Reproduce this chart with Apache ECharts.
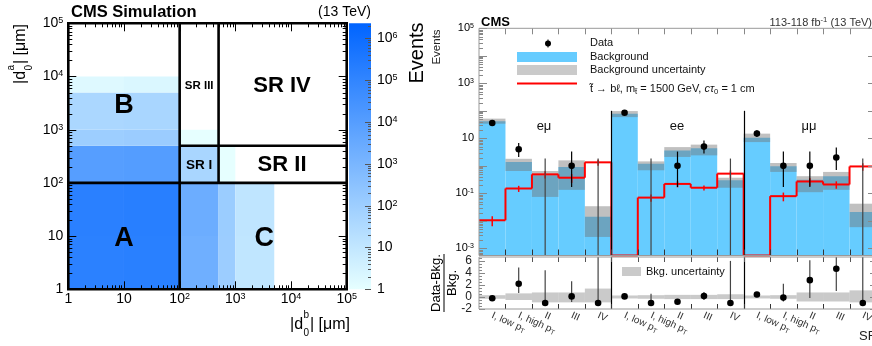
<!DOCTYPE html>
<html>
<head>
<meta charset="utf-8">
<title>ABCD plane and signal region yields</title>
<script src="https://cdn.jsdelivr.net/npm/echarts@6.0.0/dist/echarts.min.js"></script>
<style>
  html, body { margin: 0; padding: 0; background: #fff; }
  #chart { width: 872px; height: 346px; }
</style>
</head>
<body>
<div id="chart"></div>
<script>
// ---- left panel: |d0| plane ----
const xEdges = [1, 10, 100, 500, 1000, 5000, 100000];
const yEdges = [1, 10, 100, 500, 1000, 5000, 10000, 100000];
// simulated events per cell: rows go up in |d0^a|, columns go right in |d0^b|
const cellCounts = [
  [1.5e5, 1.7e5, 1900, 110, 11, 0],
  [1.6e5, 1.8e5, 2300, 115, 12, 0],
  [9.5e3, 1.1e4, 50, 1, 0, 0],
  [105, 120, 1, 0, 0, 0],
  [44, 50, 0, 0, 0, 0],
  [1.7, 2.1, 0, 0, 0, 0],
  [0, 0, 0, 0, 0, 0]
];
const zRange = [1, 2.3e6];
// region boundaries [x0, y0, x1, y1]
const cutLines = [
  [100, 1, 100, 1e5],
  [1, 100, 1e5, 100],
  [500, 100, 500, 1e5],
  [100, 500, 1e5, 500]
];
const regionNames = ['A', 'B', 'C', 'SR I', 'SR II', 'SR III', 'SR IV'];
const regionX = [10, 10, 3300, 224, 6900, 224, 6900];
const regionY = [9, 2900, 9, 215, 215, 6700, 6600];

// ---- right panel: yields per signal region ----
const channels = ['eμ', 'ee', 'μμ'];
const srNames = ['I, low pT', 'I, high pT', 'II', 'III', 'IV'];
const bkg   = [42, 1.38, 0.45, 0.9, 0.014,   79, 1.2, 3.6, 4.4, 0.3,    10.6, 0.96, 0.31, 0.42, 0.021];
const bkgLo = [34, 0.65, 0.074, 0.134, 0.0026,  59, 0.69, 2.1, 2.4, 0.16,  7.3, 0.6, 0.11, 0.134, 0.0059];
const bkgHi = [52, 1.8, 0.65, 1.58, 0.034,  98, 1.45, 4.8, 5.9, 0.37,   14.8, 1.27, 0.42, 0.6, 0.042];
const obs   = [36, 4, 0, 1, 0,   85, 0, 1, 5, 0,   15, 1, 1, 2, 0];
const obsLo = [30, 2.1, 0, 0.17, 0,   76, 0, 0.17, 2.8, 0,   11.2, 0.17, 0.17, 0.7, 0];
const obsHi = [42.5, 6.7, 1.84, 3.3, 1.84,   94.5, 1.84, 3.3, 8.4, 1.84,   19.7, 3.3, 3.3, 4.6, 1.84];
const sig   = [0.0105, 0.15, 0.49, 0.37, 1.34,   0, 0.07, 0.22, 0.16, 0.52,   0, 0.079, 0.27, 0.21, 0.95];
const sigErr = [0.4, 0.25, 0.3, 0.35, 0.25,   0, 0.3, 0.25, 0.2, 0.3,   0, 0.35, 0.3, 0.3, 0.3];
const mainYLabelExps = [-3, -1, 1, 3, 5];
const mainYRange = [Math.pow(10, -3.26), 1e5];

// (data - bkg) / bkg
const ratio   = [-0.2, 2.2, -1, 0.1, -1,   0.1, -1, -0.8, 0.15, -1,   0.4, -0.1, 2.8, 4.7, -1];
const ratioLo = [-0.35, 0.67, -1, -0.85, -1,   -0.05, -1, -0.95, -0.45, -1,   0.05, -0.75, -0.15, 1.0, -1];
const ratioHi = [0.05, 4.9, 4.45, 2.6, 9,   0.25, 0.55, -0.55, 0.83, 6.0,   0.8, 2.2, 6.1, 9, 9];
const bandLo  = [-0.3, -0.5, -0.9, -0.9, -0.9,   -0.25, -0.3, -0.35, -0.35, -0.35,   -0.25, -0.3, -0.75, -0.75, -0.9];
const bandHi  = [0.3, 0.6, 0.75, 0.75, 1.4,   0.25, 0.3, 0.35, 0.35, 0.45,   0.25, 0.3, 0.75, 0.75, 1.1];
const ratioRange = [-2, 6.65];

const FONT = '"Liberation Sans", Arial, Helvetica, "DejaVu Sans", sans-serif';
const Z_LOW = '#e6ffff', Z_HIGH = '#0064ff';
const BKG_BLUE = '#66ccff';
const UNC_FILL = 'rgba(115,115,115,0.45)';
const SIG_RED = '#ff0000';

const nBins = channels.length * srNames.length;
const binKeys = [];
channels.forEach(c => srNames.forEach(s => binKeys.push(c + '|' + s)));

function expOf(v) {
  const e = Math.log10(v), r = Math.round(e);
  return Math.abs(e - r) < 1e-6 ? r : null;
}
function richSet(size, color) {
  return {
    b: { fontSize: size, lineHeight: size, fontFamily: FONT, color: color, verticalAlign: 'middle' },
    p: { fontSize: size, lineHeight: size, padding: [Math.round(size * 0.42), 0, 0, 0], fontFamily: FONT, color: color, verticalAlign: 'bottom' },
    s: { fontSize: Math.round(size * 0.66), lineHeight: Math.round(size * 0.7), fontFamily: FONT, color: color, verticalAlign: 'top' }
  };
}
// "1", "10", "10^n" in ROOT style
function powLabel(v, padAll) {
  const e = expOf(v);
  if (e === null) return '';
  if (e === 0) return padAll ? '{p|1}' : '{b|1}';
  if (e === 1) return padAll ? '{p|10}' : '{b|10}';
  return '{p|10}{s|' + e + '}';
}
function logTicks(lo, hi) {
  const out = [];
  for (let e = Math.floor(Math.log10(lo)); e <= Math.ceil(Math.log10(hi)); e++) {
    for (let m = 1; m <= 9; m++) {
      const v = m * Math.pow(10, e);
      if (v >= lo * 0.9999 && v <= hi * 1.0001) out.push([v, m === 1 ? 1 : 0]);
    }
  }
  return out;
}
function seg(x1, y1, x2, y2, color, w) {
  return { type: 'line', shape: { x1: x1, y1: y1, x2: x2, y2: y2 }, style: { stroke: color, lineWidth: w || 1 } };
}
const crisp = v => Math.round(v) + 0.5;

// frame + inward ticks for a grid; items: [xRef, yRef, kind(0 x-tick, 1 y-tick, 2 frame), major]
function frameSeries(xi, yi, items, o) {
  return {
    type: 'custom', xAxisIndex: xi, yAxisIndex: yi, silent: true, z: 5,
    data: items,
    renderItem: function (params, api) {
      const cs = params.coordSys;
      const L = cs.x, R = cs.x + cs.width, T = cs.y, B = cs.y + cs.height;
      const kind = api.value(2);
      if (kind === 2) {
        return { type: 'rect', shape: { x: L, y: T, width: cs.width, height: cs.height },
          style: { fill: 'none', stroke: o.frame, lineWidth: o.frameWidth } };
      }
      const p = api.coord([api.value(0), api.value(1)]);
      const major = api.value(3);
      if (kind === 0) {
        const x = crisp(p[0] - (o.edgeShift ? cs.width / nBins / 2 : 0));
        const len = major ? o.xMajor : o.xMinor;
        return { type: 'group', children: [
          seg(x, B, x, B - len, o.xBottom), seg(x, T, x, T + len, o.xTop)] };
      }
      const y = crisp(p[1]);
      const len = major ? o.yMajor : o.yMinor;
      const kids = [seg(R, y, R - len, y, o.yColor)];
      if (!o.rightOnly) kids.push(seg(L, y, L + len, y, o.yColor));
      return { type: 'group', children: kids };
    }
  };
}

// ---------- series data ----------
const cellData = [];
cellCounts.forEach((row, j) => row.forEach((n, i) => {
  if (n > 0) cellData.push([xEdges[i], yEdges[j], xEdges[i + 1], yEdges[j + 1], n]);
}));
const zExp = Math.log10(zRange[1]);

const heatTicks = logTicks(1, 1e5);
const heatFrameData = heatTicks.map(t => [t[0], 1, 0, t[1]])
  .concat(heatTicks.map(t => [1, t[0], 1, t[1]]))
  .concat([[1, 1, 2, 0]]);
const cbFrameData = logTicks(zRange[0], zRange[1]).map(t => [0.5, t[0], 1, t[1]]);

const edgeItems = [];
for (let i = 1; i < nBins; i++) edgeItems.push(i);
const mainFrameData = logTicks(mainYRange[0], mainYRange[1]).map(t => [0, t[0], 1, t[1]])
  .concat(edgeItems.map(i => [i, 1, 0, 1]))
  .concat([[0, 1, 2, 0]]);
const ratioYTicks = [];
for (let v = ratioRange[0]; v <= ratioRange[1]; v += 0.5) ratioYTicks.push([0, v, 1, v % 2 === 0 ? 1 : 0]);
const ratioFrameData = ratioYTicks
  .concat(edgeItems.map(i => [i, 0, 0, 1]))
  .concat([[0, 0, 2, 0]]);
const sepData = [];
for (let k = 1; k < channels.length; k++) sepData.push([k * srNames.length, 100]);

// ---------- option ----------
const gridBase = { show: false, outerBoundsMode: 'none', containLabel: false };
const hiddenAxis = { axisLine: { show: false }, axisTick: { show: false }, splitLine: { show: false } };
const regionFont = { 'A': 27, 'B': 27, 'C': 27, 'SR I': 13.5, 'SR II': 22, 'SR III': 11.5, 'SR IV': 22 };

const option = {
  animation: false,
  backgroundColor: '#fff',
  grid: [
    Object.assign({ left: 68.3, top: 23.3, width: 278.4, height: 266 }, gridBase),
    Object.assign({ left: 349, top: 23.3, width: 22, height: 266 }, gridBase),
    Object.assign({ left: 479, top: 28.3, width: 397, height: 227.2 }, gridBase),
    Object.assign({ left: 479, top: 257, width: 397, height: 52 }, gridBase)
  ],
  xAxis: [
    Object.assign({ gridIndex: 0, type: 'log', logBase: 10, min: 1, max: 1e5,
      axisLabel: { margin: 3, formatter: v => powLabel(v, true), rich: richSet(14, '#000'), showMinLabel: true, showMaxLabel: true } }, hiddenAxis),
    Object.assign({ gridIndex: 1, type: 'value', min: 0, max: 1, axisLabel: { show: false } }, hiddenAxis),
    Object.assign({ gridIndex: 2, type: 'category', data: binKeys, boundaryGap: true, axisLabel: { show: false } }, hiddenAxis),
    Object.assign({ gridIndex: 3, type: 'category', data: binKeys, boundaryGap: true,
      axisLabel: {
        interval: 0, rotate: -24, margin: 6, hideOverlap: false,
        formatter: function (v) {
          const name = v.split('|')[1];
          if (/pT$/.test(name)) return '{n|' + name.slice(0, -1) + '}{t|T}';
          return '{n|' + name + '}';
        },
        rich: {
          n: { fontSize: 10, lineHeight: 12, fontFamily: FONT, color: '#333', verticalAlign: 'middle' },
          t: { fontSize: 7, lineHeight: 7, fontFamily: FONT, color: '#333', verticalAlign: 'bottom' }
        }
      } }, hiddenAxis)
  ],
  yAxis: [
    Object.assign({ gridIndex: 0, type: 'log', logBase: 10, min: 1, max: 1e5,
      axisLabel: { margin: 5, formatter: v => powLabel(v, false), rich: richSet(14, '#000'), showMinLabel: true, showMaxLabel: true } }, hiddenAxis),
    Object.assign({ gridIndex: 1, type: 'log', logBase: 10, min: zRange[0], max: zRange[1], position: 'right',
      axisLabel: { margin: 6, formatter: v => powLabel(v, false), rich: richSet(14, '#000'), showMinLabel: true } }, hiddenAxis),
    Object.assign({ gridIndex: 2, type: 'log', logBase: 10, min: mainYRange[0], max: mainYRange[1], axisLabel: { show: false } }, hiddenAxis),
    Object.assign({ gridIndex: 3, type: 'value', min: ratioRange[0], max: ratioRange[1], interval: 2,
      axisLabel: { margin: 7, fontSize: 12, fontFamily: FONT, color: '#222',
        formatter: v => (Math.abs(v % 2) < 1e-9 && v <= 6 ? String(v) : ''), showMaxLabel: false } }, hiddenAxis)
  ],
  series: [
    // d0 plane cells
    {
      type: 'custom', xAxisIndex: 0, yAxisIndex: 0, silent: true, z: 2,
      data: cellData,
      renderItem: function (params, api) {
        const p0 = api.coord([api.value(0), api.value(3)]);
        const p1 = api.coord([api.value(2), api.value(1)]);
        const t = Math.log10(api.value(4)) / zExp;
        return { type: 'rect', shape: { x: p0[0], y: p0[1], width: p1[0] - p0[0], height: p1[1] - p0[1] },
          style: { fill: echarts.color.lerp(Math.max(0, Math.min(1, t)), [Z_LOW, Z_HIGH]) } };
      }
    },
    // region boundaries
    {
      type: 'custom', xAxisIndex: 0, yAxisIndex: 0, silent: true, z: 3,
      data: cutLines,
      renderItem: function (params, api) {
        const a = api.coord([api.value(0), api.value(1)]);
        const b = api.coord([api.value(2), api.value(3)]);
        return seg(a[0], a[1], b[0], b[1], '#000', 2.6);
      }
    },
    frameSeries(0, 0, heatFrameData, { frame: '#000', frameWidth: 2.6, xMajor: 8, xMinor: 4, yMajor: 8, yMinor: 4,
      xBottom: '#000', xTop: '#000', yColor: '#000' }),
    // region names
    {
      type: 'custom', xAxisIndex: 0, yAxisIndex: 0, silent: true, z: 6,
      data: regionX.map((x, k) => [x, regionY[k], k]),
      renderItem: function (params, api) {
        const p = api.coord([api.value(0), api.value(1)]);
        const name = regionNames[api.value(2)];
        return { type: 'text', x: p[0], y: p[1],
          style: { text: name, fill: '#000', font: 'bold ' + regionFont[name] + 'px ' + FONT,
            align: 'center', verticalAlign: 'middle', textAlign: 'center', textVerticalAlign: 'middle' } };
      }
    },
    // colour bar
    {
      type: 'custom', xAxisIndex: 1, yAxisIndex: 1, silent: true, z: 2,
      data: [[0.5, 10]],
      renderItem: function (params) {
        const cs = params.coordSys;
        return { type: 'rect', shape: { x: cs.x, y: cs.y, width: cs.width, height: cs.height },
          style: { fill: new echarts.graphic.LinearGradient(0, 1, 0, 0, [{ offset: 0, color: Z_LOW }, { offset: 1, color: Z_HIGH }]) } };
      }
    },
    frameSeries(1, 1, cbFrameData, { rightOnly: true, yMajor: 6, yMinor: 3, yColor: '#555' }),

    // background histogram
    {
      type: 'custom', xAxisIndex: 2, yAxisIndex: 2, silent: true, z: 2,
      data: bkg.map((v, i) => [i, v]),
      renderItem: function (params, api) {
        const cs = params.coordSys;
        const w = cs.width / nBins;
        const p = api.coord([api.value(0), api.value(1)]);
        const B = cs.y + cs.height;
        return { type: 'rect', shape: { x: p[0] - w / 2, y: p[1], width: w, height: B - p[1] }, style: { fill: BKG_BLUE } };
      }
    },
    // background uncertainty
    {
      type: 'custom', xAxisIndex: 2, yAxisIndex: 2, silent: true, z: 2,
      data: bkg.map((v, i) => [i, bkgLo[i], bkgHi[i]]),
      renderItem: function (params, api) {
        const cs = params.coordSys;
        const w = cs.width / nBins;
        const lo = api.coord([api.value(0), api.value(1)]);
        const hi = api.coord([api.value(0), api.value(2)]);
        return { type: 'rect', shape: { x: lo[0] - w / 2, y: hi[1], width: w, height: lo[1] - hi[1] }, style: { fill: UNC_FILL } };
      }
    },
    // signal
    {
      type: 'custom', xAxisIndex: 2, yAxisIndex: 2, silent: true, z: 3,
      data: sig.map((v, i) => [i, v, i ? sig[i - 1] : -1, sigErr[i]]),
      renderItem: function (params, api) {
        const cs = params.coordSys;
        const w = cs.width / nBins;
        const B = cs.y + cs.height;
        const i = api.value(0);
        const yOf = v => (v > 0 ? api.coord([i, v])[1] : B);
        const xc = api.coord([i, 1])[0];
        const s = api.value(1), prev = api.value(2), e = api.value(3);
        const y = yOf(s);
        const kids = [seg(xc - w / 2, y, xc + w / 2, y, SIG_RED, 2)];
        if (prev >= 0) kids.push(seg(xc - w / 2, yOf(prev), xc - w / 2, y, SIG_RED, 2));
        if (s > 0 && e > 0) kids.push(seg(xc, yOf(s * (1 - e)), xc, yOf(s * (1 + e)), SIG_RED, 1.5));
        return { type: 'group', children: kids };
      }
    },
    // data
    {
      type: 'custom', xAxisIndex: 2, yAxisIndex: 2, silent: true, z: 4,
      data: obs.map((n, i) => [i, n, obsLo[i], obsHi[i]]),
      renderItem: function (params, api) {
        const cs = params.coordSys;
        const B = cs.y + cs.height;
        const i = api.value(0), n = api.value(1);
        const xc = api.coord([i, 1])[0];
        const yHi = api.coord([i, api.value(3)])[1];
        if (n <= 0) return seg(xc, B, xc, yHi, '#444', 1.2);
        const yLo = api.coord([i, api.value(2)])[1];
        const yc = api.coord([i, n])[1];
        return { type: 'group', children: [
          seg(xc, yLo, xc, yHi, '#000', 1.2),
          { type: 'circle', shape: { cx: xc, cy: yc, r: 3.3 }, style: { fill: '#000' } }] };
      }
    },
    // channel separators
    {
      type: 'custom', xAxisIndex: 2, yAxisIndex: 2, silent: true, z: 4,
      data: sepData,
      renderItem: function (params, api) {
        const cs = params.coordSys;
        const w = cs.width / nBins;
        const p = api.coord([api.value(0), api.value(1)]);
        const x = crisp(p[0] - w / 2);
        return seg(x, p[1], x, cs.y + cs.height, '#000', 1.2);
      }
    },
    // main y labels
    {
      type: 'custom', xAxisIndex: 2, yAxisIndex: 2, silent: true, z: 6,
      data: mainYLabelExps.map(e => [0, Math.pow(10, e)]),
      renderItem: function (params, api) {
        const cs = params.coordSys;
        const y = api.coord([0, api.value(1)])[1];
        return { type: 'text', x: cs.x - 5, y: y,
          style: { text: powLabel(api.value(1), false), rich: richSet(11, '#222'),
            align: 'right', verticalAlign: 'middle', textAlign: 'right', textVerticalAlign: 'middle' } };
      }
    },
    frameSeries(2, 2, mainFrameData, { frame: '#999', frameWidth: 1, edgeShift: true, xMajor: 6, xMinor: 6,
      yMajor: 8, yMinor: 4, xBottom: '#333', xTop: '#888', yColor: '#888' }),

    // ratio band
    {
      type: 'custom', xAxisIndex: 3, yAxisIndex: 3, silent: true, z: 2,
      data: bandLo.map((lo, i) => [i, lo, bandHi[i]]),
      renderItem: function (params, api) {
        const cs = params.coordSys;
        const w = cs.width / nBins;
        const lo = api.coord([api.value(0), api.value(1)]);
        const hi = api.coord([api.value(0), api.value(2)]);
        return { type: 'rect', shape: { x: lo[0] - w / 2, y: hi[1], width: w, height: lo[1] - hi[1] }, style: { fill: 'rgba(150,150,150,0.5)' } };
      }
    },
    // ratio points
    {
      type: 'custom', xAxisIndex: 3, yAxisIndex: 3, silent: true, z: 4,
      data: ratio.map((r, i) => [i, r, ratioLo[i], ratioHi[i]]),
      renderItem: function (params, api) {
        const cs = params.coordSys;
        const i = api.value(0);
        const c = api.coord([i, api.value(1)]);
        const yLo = Math.min(cs.y + cs.height, api.coord([i, api.value(2)])[1]);
        const yHi = Math.max(cs.y, api.coord([i, api.value(3)])[1]);
        return { type: 'group', children: [
          seg(c[0], yLo, c[0], yHi, '#444', 1.2),
          { type: 'circle', shape: { cx: c[0], cy: c[1], r: 3.3 }, style: { fill: '#000' } }] };
      }
    },
    {
      type: 'custom', xAxisIndex: 3, yAxisIndex: 3, silent: true, z: 4,
      data: sepData.map(d => [d[0], 0]),
      renderItem: function (params, api) {
        const cs = params.coordSys;
        const w = cs.width / nBins;
        const x = crisp(api.coord([api.value(0), 0])[0] - w / 2);
        return seg(x, cs.y, x, cs.y + cs.height, '#000', 1.2);
      }
    },
    frameSeries(3, 3, ratioFrameData, { frame: '#999', frameWidth: 1, edgeShift: true, xMajor: 5, xMinor: 5,
      yMajor: 6, yMinor: 3, xBottom: '#333', xTop: '#555', yColor: '#888' })
  ],
  graphic: []
};

// ---------- texts, titles, legends ----------
function txt(x, y, text, o) {
  o = o || {};
  const align = o.align || 'left', va = o.va || 'middle';
  return {
    type: 'text', x: x, y: y, rotation: o.rotation || 0, z: 100, silent: true,
    style: {
      text: text, fill: o.color || '#000', rich: o.rich,
      font: (o.weight || 'normal') + ' ' + (o.size || 12) + 'px ' + FONT,
      align: align, verticalAlign: va, textAlign: align, textVerticalAlign: va
    }
  };
}
// |d0^k| [μm] with stacked sub/superscript; local x runs along the text
function d0Title(letter) {
  return [
    txt(0, 0, '|d', { size: 16 }),
    txt(13.5, -10, letter, { size: 10 }),
    txt(13.5, 8, '0', { size: 10 }),
    txt(20, 0, '| [μm]', { size: 16 })
  ];
}
const sub = (size, color) => ({
  n: { fontSize: size, lineHeight: size + 3, fontFamily: FONT, fill: color, color: color, verticalAlign: 'middle' },
  i: { fontSize: size, lineHeight: size + 3, fontFamily: FONT, fontStyle: 'italic', fill: color, color: color, verticalAlign: 'middle' },
  s: { fontSize: size * 0.7, lineHeight: size * 0.7, fontFamily: FONT, fill: color, color: color, verticalAlign: 'bottom' },
  u: { fontSize: size * 0.7, lineHeight: size * 0.7, fontFamily: FONT, fill: color, color: color, verticalAlign: 'top' }
});

option.graphic = [
  // left panel
  txt(71, 12.5, 'CMS Simulation', { size: 16.5, weight: 'bold' }),
  txt(371, 12.5, '(13 TeV)', { size: 14, align: 'right' }),
  { type: 'group', x: 290, y: 325, silent: true, children: d0Title('b') },
  { type: 'group', x: 21, y: 84, rotation: Math.PI / 2, silent: true, children: d0Title('a') },

  // right panel header and titles
  txt(481, 22.5, 'CMS', { size: 13, weight: 'bold' }),
  txt(872, 22.5, '{n|113-118 fb}{u|-1}{n| (13 TeV)}', { size: 11, align: 'right', color: '#333', rich: sub(11, '#333') }),
  txt(417, 53, 'Events', { size: 20, align: 'center', rotation: Math.PI / 2 }),
  txt(437, 47, 'Events', { size: 11.5, align: 'center', rotation: Math.PI / 2, color: '#222' }),
  { type: 'group', x: 444, y: 283, rotation: Math.PI / 2, silent: true, children: [
    txt(0, -7.5, 'Data-Bkg.', { size: 13, align: 'center' }),
    seg(-29, 0, 29, 0, '#000', 1),
    txt(0, 8, 'Bkg.', { size: 13, align: 'center' })
  ] },
  txt(859, 336, 'SR', { size: 13, color: '#222' }),

  // channel names
  txt(544, 126, channels[0], { size: 13, align: 'center', color: '#111' }),
  txt(677, 126, channels[1], { size: 13, align: 'center', color: '#111' }),
  txt(809, 126, channels[2], { size: 13, align: 'center', color: '#111' }),

  // legend
  seg(548, 39.5, 548, 47.5, '#000', 1),
  { type: 'circle', shape: { cx: 548, cy: 43.5, r: 3 }, style: { fill: '#000' }, z: 100, silent: true },
  txt(590, 43, 'Data', { size: 11, color: '#111' }),
  { type: 'rect', shape: { x: 517, y: 52, width: 60, height: 10 }, style: { fill: BKG_BLUE }, z: 100, silent: true },
  txt(590, 56.5, 'Background', { size: 11, color: '#111' }),
  { type: 'rect', shape: { x: 517, y: 65, width: 60, height: 10 }, style: { fill: 'rgba(150,150,150,0.5)' }, z: 100, silent: true },
  txt(590, 70, 'Background uncertainty', { size: 11, color: '#111' }),
  seg(517, 83.5, 577, 83.5, SIG_RED, 2),
  txt(590, 89, '{n|t\u0303 \u2192 b\u2113, m}{s|t\u0303}{n| = 1500 GeV, }{i|c\u03c4}{s|0}{n| = 1 cm}', { size: 11, color: '#111', rich: sub(11, '#111') }),

  // ratio legend
  { type: 'rect', shape: { x: 622, y: 267, width: 19, height: 9 }, style: { fill: 'rgba(150,150,150,0.5)' }, z: 100, silent: true },
  txt(646, 271.5, 'Bkg. uncertainty', { size: 11, color: '#111' })
];
option.graphic.forEach(g => { if (g.type === 'line') { g.z = 100; g.silent = true; } });

const chart = echarts.init(document.getElementById('chart'));
chart.setOption(option);
window.addEventListener('resize', () => chart.resize());
</script>
</body>
</html>
